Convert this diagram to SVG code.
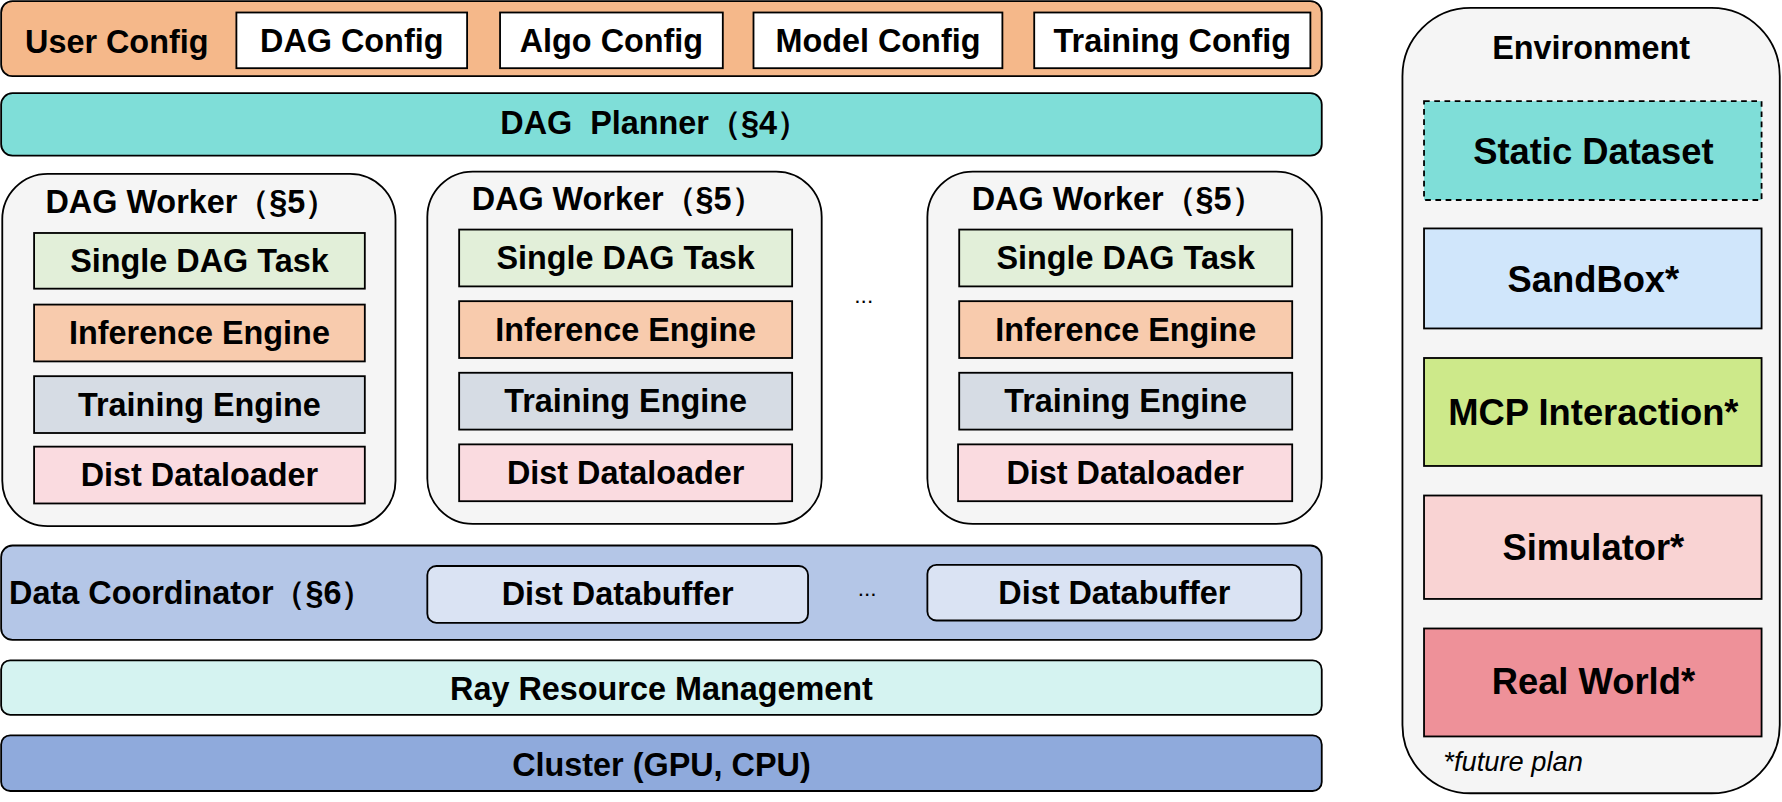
<svg xmlns="http://www.w3.org/2000/svg" width="1782" height="802" viewBox="0 0 1782 802">
<style>
text{font-family:"Liberation Sans",Arial,sans-serif;font-weight:bold;font-size:28.5px;fill:#000;dominant-baseline:central}
.c{text-anchor:middle}
rect{stroke:#000;stroke-width:1.6}
.w{fill:#fff}.s{fill:#E2EFD9}.i{fill:#F8CBAD}.t{fill:#D6DCE4}.d{fill:#FADBE0}
.wk{fill:#F5F5F5}
.e{font-size:32px}
</style>
<rect width="1782" height="802" style="fill:#fff;stroke:none"/>
<g transform="scale(1.1365)">
<g id="userconfig">
<rect x="1" y="1" width="1162" height="66" rx="10" fill="#F5B88A"/>
<text x="22" y="37">User Config</text>
<rect class="w" x="208" y="11" width="203" height="49"/><text class="c" x="309.5" y="36">DAG Config</text>
<rect class="w" x="440" y="11" width="196" height="49"/><text class="c" x="538" y="36">Algo Config</text>
<rect class="w" x="663" y="11" width="219" height="49"/><text class="c" x="772.5" y="36">Model Config</text>
<rect class="w" x="910" y="11" width="243" height="49"/><text class="c" x="1031.5" y="36">Training Config</text>
</g>
<g id="planner">
<rect x="1" y="82" width="1162" height="55" rx="10" fill="#7FDED8"/>
<text class="c" x="576" y="108" xml:space="preserve">DAG  Planner（§4）</text>
</g>
<g id="worker1">
<rect class="wk" x="2" y="153" width="346" height="310" rx="40"/>
<text x="40" y="178">DAG Worker（§5）</text>
<rect class="s" x="30" y="205" width="291" height="49"/><text class="c" x="175.5" y="230">Single DAG Task</text>
<rect class="i" x="30" y="268" width="291" height="50"/><text class="c" x="175.5" y="293">Inference Engine</text>
<rect class="t" x="30" y="331" width="291" height="50"/><text class="c" x="175.5" y="356">Training Engine</text>
<rect class="d" x="30" y="393" width="291" height="50"/><text class="c" x="175.5" y="418">Dist Dataloader</text>
</g>
<g id="worker2">
<rect class="wk" x="376" y="151" width="347" height="310" rx="40"/>
<text x="415" y="175">DAG Worker（§5）</text>
<rect class="s" x="404" y="202" width="293" height="50"/><text class="c" x="550.5" y="227">Single DAG Task</text>
<rect class="i" x="404" y="265" width="293" height="50"/><text class="c" x="550.5" y="290">Inference Engine</text>
<rect class="t" x="404" y="328" width="293" height="50"/><text class="c" x="550.5" y="353">Training Engine</text>
<rect class="d" x="404" y="391" width="293" height="50"/><text class="c" x="550.5" y="416">Dist Dataloader</text>
</g>
<text class="c" x="760" y="260" style="font-weight:normal;font-size:20px">...</text>
<g id="worker3">
<rect class="wk" x="816" y="151" width="347" height="310" rx="40"/>
<text x="855" y="175">DAG Worker（§5）</text>
<rect class="s" x="844" y="202" width="293" height="50"/><text class="c" x="990.5" y="227">Single DAG Task</text>
<rect class="i" x="844" y="265" width="293" height="50"/><text class="c" x="990.5" y="290">Inference Engine</text>
<rect class="t" x="844" y="328" width="293" height="50"/><text class="c" x="990.5" y="353">Training Engine</text>
<rect class="d" x="843" y="391" width="294" height="50"/><text class="c" x="990" y="416">Dist Dataloader</text>
</g>
<g id="coordinator">
<rect x="1" y="480" width="1162" height="83" rx="10" fill="#B4C6E7"/>
<text x="8" y="522">Data Coordinator（§6）</text>
<rect x="376" y="498" width="335" height="50" rx="8" fill="#DAE3F3"/><text class="c" x="543.5" y="523">Dist Databuffer</text>
<text class="c" x="763" y="517" style="font-weight:normal;font-size:20px">...</text>
<rect x="816" y="497" width="329" height="49" rx="8" fill="#DAE3F3"/><text class="c" x="980.5" y="522">Dist Databuffer</text>
</g>
<g id="ray">
<rect x="1" y="581" width="1162" height="48" rx="8" fill="#D5F3F1"/>
<text class="c" x="582" y="606">Ray Resource Management</text>
</g>
<g id="cluster">
<rect x="1" y="647" width="1162" height="49" rx="8" fill="#8FAADC"/>
<text class="c" x="582" y="673">Cluster (GPU, CPU)</text>
</g>
<g id="environment">
<rect class="wk" x="1234" y="7" width="332" height="691" rx="60"/>
<text class="c" x="1400" y="42">Environment</text>
<rect x="1253" y="89" width="297" height="87" fill="#7FDED8" stroke-dasharray="5,4"/><text class="c e" x="1402" y="133">Static Dataset</text>
<rect x="1253" y="201" width="297" height="88" fill="#D0E6FB"/><text class="c e" x="1402" y="246">SandBox*</text>
<rect x="1253" y="315" width="297" height="95" fill="#CDE98A"/><text class="c e" x="1402" y="363">MCP Interaction*</text>
<rect x="1253" y="436" width="297" height="91" fill="#F9D3D3"/><text class="c e" x="1402" y="482">Simulator*</text>
<rect x="1253" y="553" width="297" height="95" fill="#EE9199"/><text class="c e" x="1402" y="600">Real World*</text>
<text x="1270" y="670" style="font-weight:normal;font-style:italic;font-size:24px">*future plan</text>
</g>
<g id="connectors"/>
</g>
</svg>
